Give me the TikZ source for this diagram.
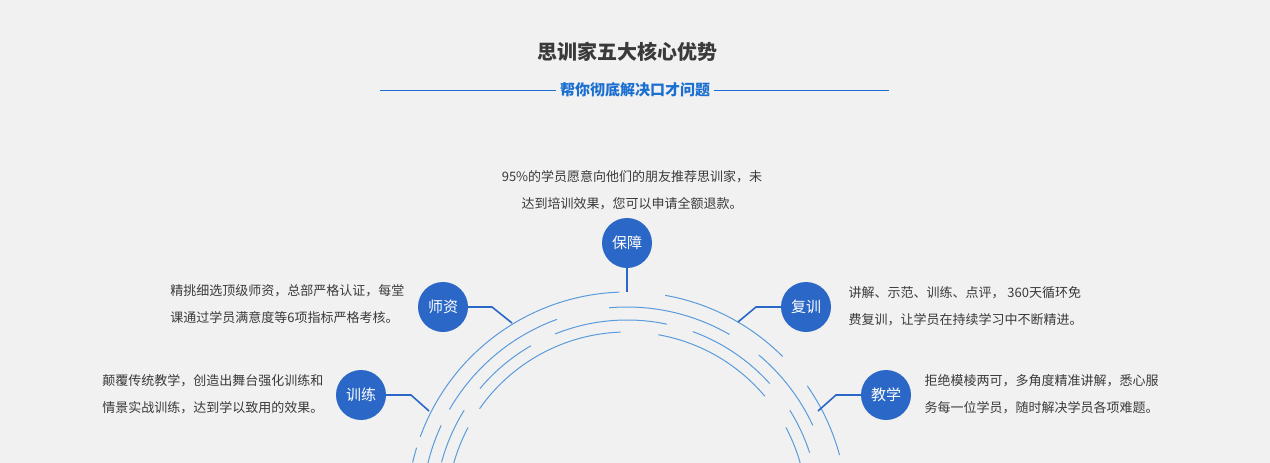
\documentclass[tikz,border=0pt]{standalone}
\usepackage{fontspec}
\newfontfamily\cjk{Noto Sans CJK SC}
\definecolor{bg}{HTML}{F1F1F1}
\definecolor{badge}{HTML}{2A67C6}
\definecolor{ring}{HTML}{5A9BDC}
\definecolor{ttl}{HTML}{1A6FD0}
\definecolor{txt}{HTML}{3A3A3A}
\begin{document}
\begin{tikzpicture}[x=1pt,y=-1pt,
    badge/.style={circle,fill=badge,minimum size=50pt,inner sep=0pt,text=white,font=\cjk\fontsize{15}{15}\selectfont},
    desc/.style={text=txt,font=\cjk\fontsize{13}{27}\selectfont,align=left},
    link/.style={draw=badge,line width=1.6pt},
    ring/.style={draw=ring,line width=1pt}]
  \fill[bg] (0,0) rectangle (1270,463);
  \useasboundingbox (0,0) rectangle (1270,463);
  \clip (0,0) rectangle (1270,463);
  % heading
  \node[font=\cjk\bfseries\fontsize{20}{20}\selectfont,text=txt] (title) at (627,52) {思训家五大核心优势};
  \node[font=\cjk\bfseries\fontsize{15}{15}\selectfont,text=ttl] (sub) at (635,90) {帮你彻底解决口才问题};
  \coordinate (la) at (380,90); \coordinate (rb) at (889,90);
  \draw[ttl,line width=0.8pt] (la) -- (sub.west) (sub.east) -- (rb);
  % rings (center 627,512)
  \begin{scope}[shift={(627,512)},y=1pt]
    \draw[ring] (160:220) arc (160:92:220);
    \draw[ring] (80:220) arc (80:45:220);
    \draw[ring] (35:220) arc (35:15:220);
    \draw[ring] (167:220) arc (167:163:220);
    \draw[ring] (150:205) arc (150:110:205);
    \draw[ring] (95:205) arc (95:60:205);
    \draw[ring] (50:205) arc (50:25:205);
    \draw[ring] (175:205) arc (175:155:205);
    \draw[ring] (140:192) arc (140:120:192);
    \draw[ring] (112:192) arc (112:78:192);
    \draw[ring] (70:192) arc (70:42:192);
    \draw[ring] (165:192) arc (165:148:192);
    \draw[ring] (32:192) arc (32:18:192);
    \draw[ring] (145:180) arc (145:92:180);
    \draw[ring] (80:180) arc (80:40:180);
    \draw[ring] (168:180) arc (168:152:180);
    \draw[ring] (28:180) arc (28:15:180);
  \end{scope}
  % badges
  \node[badge] (guard) at (627,243) {保障};
  \node[badge] (staff) at (443,307) {师资};
  \node[badge] (review) at (806,307) {复训};
  \node[badge] (drill) at (361,395) {训练};
  \node[badge] (teach) at (886,395) {教学};
  \coordinate (g1) at (627,292);
  \coordinate (s1) at (492,307); \coordinate (s2) at (512,323);
  \coordinate (r1) at (756,307); \coordinate (r2) at (738,322);
  \coordinate (d1) at (411,395); \coordinate (d2) at (429,411);
  \coordinate (t1) at (836,395); \coordinate (t2) at (818,411);
  \draw[link] (guard) -- (g1);
  \draw[link] (staff) -- (s1) -- (s2);
  \draw[link] (review) -- (r1) -- (r2);
  \draw[link] (drill) -- (d1) -- (d2);
  \draw[link] (teach) -- (t1) -- (t2);
  % texts
  \node[desc,align=center] (guardtxt) at (632,190) {95\%的学员愿意向他们的朋友推荐思训家，未\\达到培训效果，您可以申请全额退款。};
  \node[desc,anchor=east] (stafftxt) at (408,304) {精挑细选顶级师资，总部严格认证，每堂\\课通过学员满意度等6项指标严格考核。};
  \node[desc,anchor=west] (reviewtxt) at (845,306) {讲解、示范、训练、点评，\ 360天循环免\\费复训，让学员在持续学习中不断精进。};
  \node[desc,anchor=east] (drilltxt) at (327,394) {颠覆传统教学，创造出舞台强化训练和\\情景实战训练，达到学以致用的效果。};
  \node[desc,anchor=west] (teachtxt) at (921,394) {拒绝模棱两可，多角度精准讲解，悉心服\\务每一位学员，随时解决学员各项难题。};
\end{tikzpicture}
\end{document}
